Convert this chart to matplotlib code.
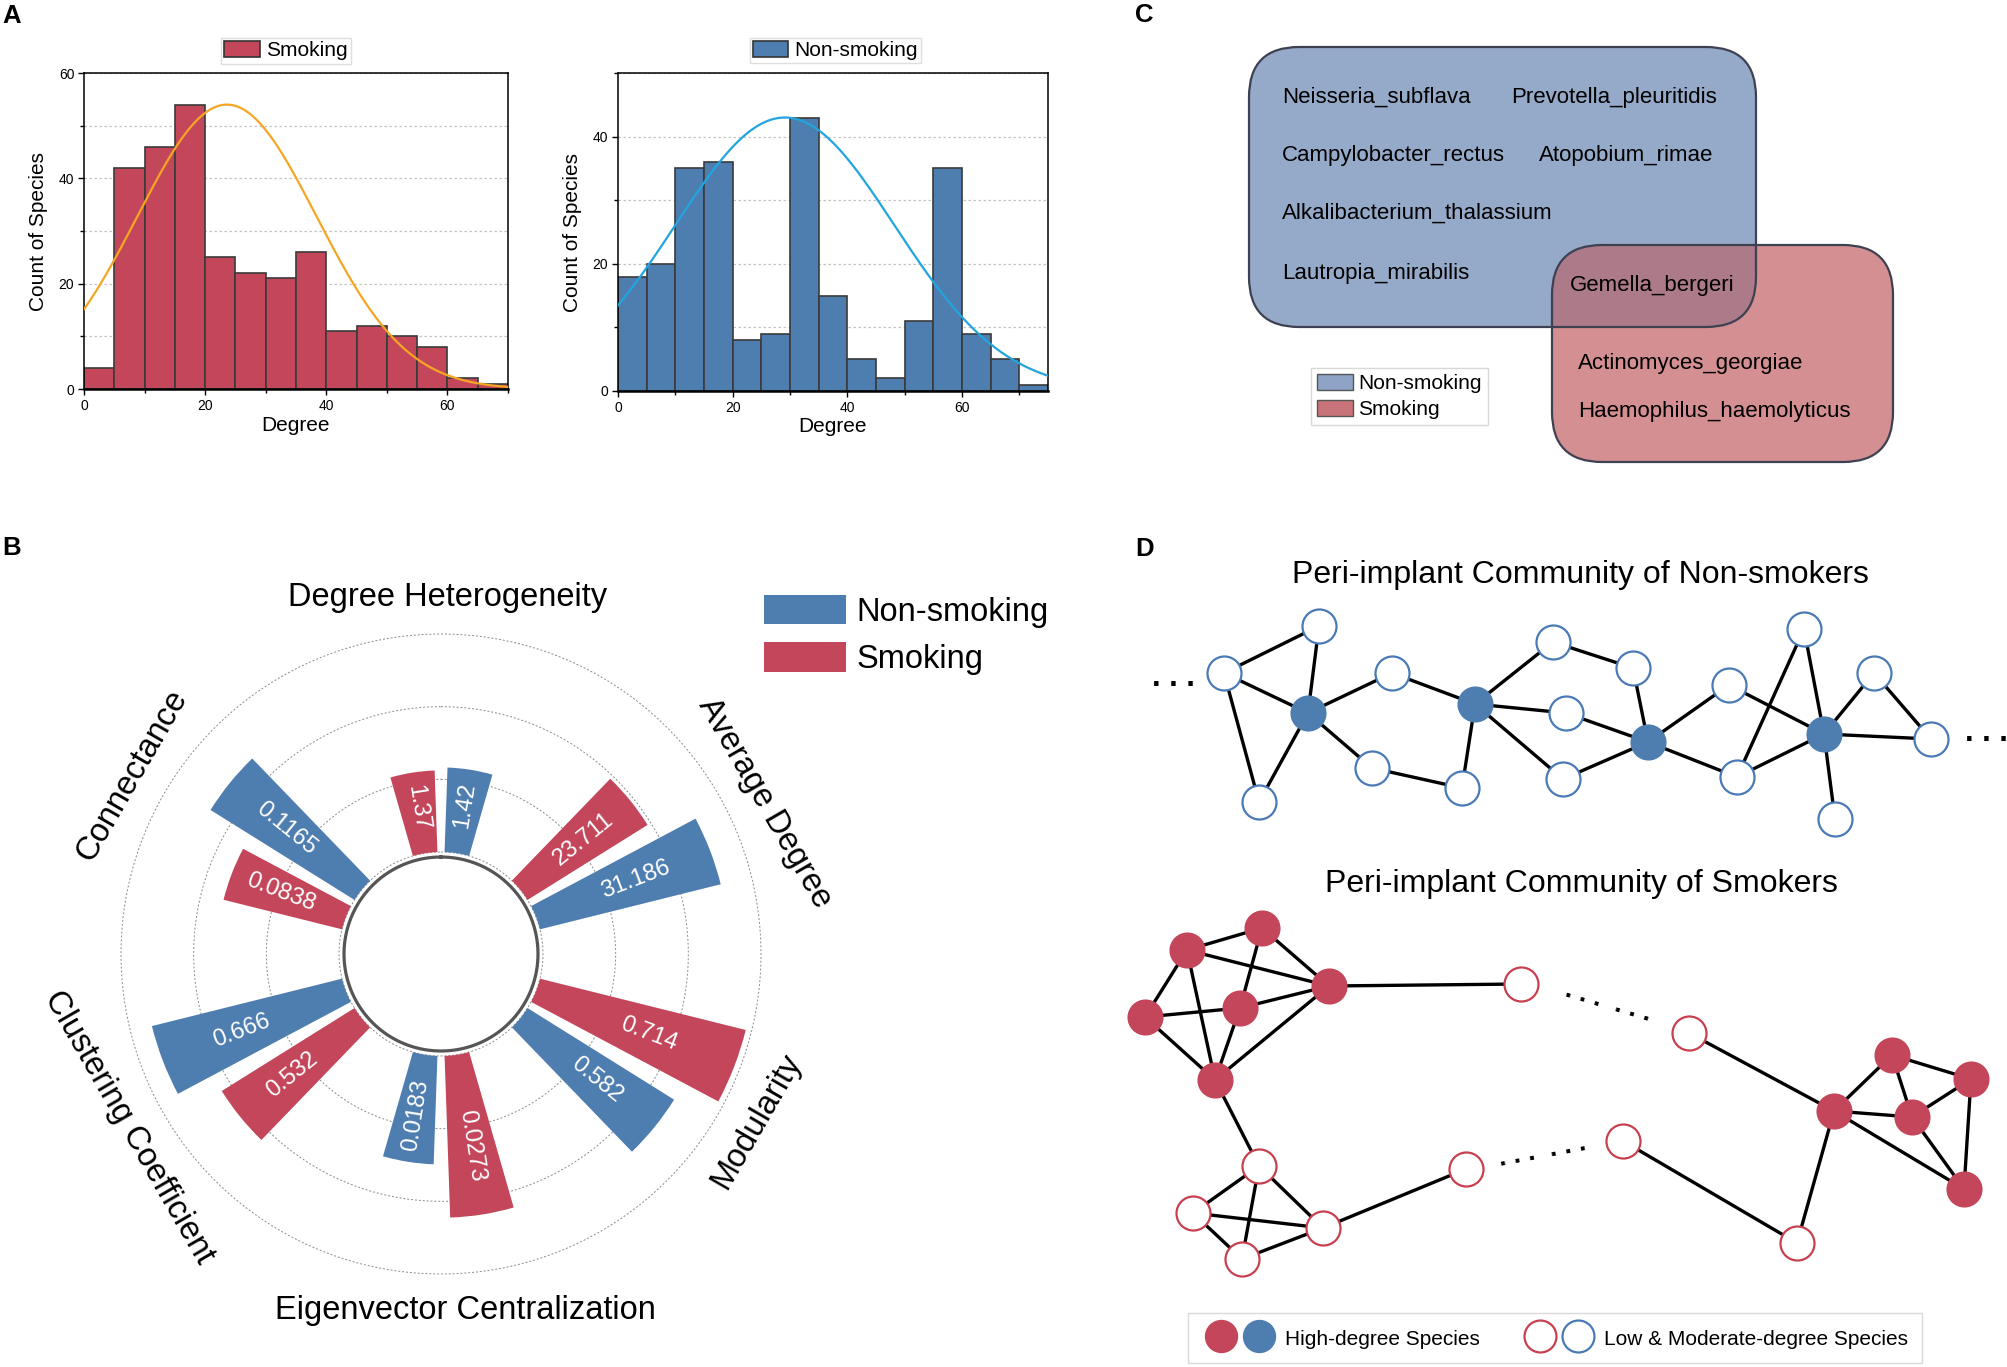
import numpy as np
import matplotlib.pyplot as plt
from matplotlib.patches import FancyBboxPatch, Patch
from matplotlib.lines import Line2D
from matplotlib.legend_handler import HandlerTuple

plt.rcParams['font.family'] = ['Liberation Sans', 'DejaVu Sans']

W, H = 2008, 1367
RED = '#c4465a'
BLUE = '#4e7db0'

# ---- A: degree distributions, bins of width 5 ----
bin_width = 5
smoking_counts = [4, 42, 46, 54, 25, 22, 21, 26, 11, 12, 10, 8, 2, 1]
nonsmoking_counts = [18, 20, 35, 36, 8, 9, 43, 15, 5, 2, 11, 35, 9, 5, 1]
# gaussian fits: amplitude, mean, sd
smoking_fit = [54.0, 23.6, 14.8]
nonsmoking_fit = [43.0, 29.1, 19.1]

# ---- B: network properties ----
metrics = ['Degree Heterogeneity', 'Average Degree', 'Modularity',
           'Eigenvector Centralization', 'Clustering Coefficient', 'Connectance']
nonsmoking_vals = [1.42, 31.186, 0.582, 0.0183, 0.666, 0.1165]
smoking_vals = [1.37, 23.711, 0.714, 0.0273, 0.532, 0.0838]
metric_max = [3.66, 36.5, 0.734, 0.0368, 0.741, 0.1496]   # value reaching outer ring
label_angle = [1, 65, 118, 176, 241, 300]

# ---- C: hub species ----
nonsmoking_only = ['Neisseria_subflava', 'Prevotella_pleuritidis', 'Campylobacter_rectus',
                   'Atopobium_rimae', 'Alkalibacterium_thalassium', 'Lautropia_mirabilis']
shared = ['Gemella_bergeri']
smoking_only = ['Actinomyces_georgiae', 'Haemophilus_haemolyticus']

# ---- D: schematic networks (pixel positions) ----
ns_x = [1319, 1224, 1308, 1259, 1392, 1372, 1462, 1475, 1553, 1633,
        1566, 1563, 1648, 1729, 1737, 1824, 1804, 1874, 1931, 1835]
ns_y = [626, 673, 713, 802, 673, 768, 788, 704, 642, 668,
        713, 779, 742, 685, 777, 734, 629, 673, 739, 819]
ns_hub = [0, 0, 1, 0, 0, 0, 0, 1, 0, 0, 0, 0, 1, 0, 0, 1, 0, 0, 0, 0]
ns_edges = [(1, 0), (0, 2), (1, 2), (1, 3), (2, 3), (2, 4), (2, 5), (5, 6), (6, 7), (4, 7),
            (7, 8), (7, 10), (7, 11), (8, 9), (9, 12), (10, 12), (11, 12), (12, 13), (12, 14),
            (13, 15), (14, 15), (14, 16), (16, 15), (15, 17), (17, 18), (15, 18), (15, 19)]

sm_x = [1262, 1187, 1329, 1240, 1145, 1215, 1521, 1689, 1259, 1193,
        1323, 1242, 1466, 1623, 1797, 1892, 1971, 1834, 1912, 1964]
sm_y = [928, 950, 986, 1008, 1017, 1080, 984, 1033, 1166, 1213,
        1228, 1259, 1169, 1141, 1243, 1055, 1079, 1111, 1117, 1189]
sm_hub = [1, 1, 1, 1, 1, 1, 0, 0, 0, 0, 0, 0, 0, 0, 0, 1, 1, 1, 1, 1]
sm_edges = [(1, 0), (0, 2), (0, 3), (1, 2), (1, 4), (1, 5), (4, 3), (3, 2), (3, 5), (4, 5),
            (5, 2), (2, 6), (5, 8), (8, 9), (8, 10), (8, 11), (9, 10), (9, 11), (11, 10),
            (10, 12), (13, 14), (7, 17), (14, 17), (17, 15), (17, 18), (17, 19), (15, 16),
            (15, 18), (18, 16), (16, 19), (18, 19)]

fig = plt.figure(figsize=(W / 100, H / 100), dpi=100)


def px_rect(left, top, right, bottom):
    return [left / W, 1 - bottom / H, (right - left) / W, (bottom - top) / H]


def hist_panel(rect, counts, fit, color, curve_color, label, xmax, ymax, leg_x):
    ax = fig.add_axes(rect)
    left = np.arange(len(counts)) * bin_width
    ax.bar(left, counts, width=bin_width, align='edge', color=color,
           edgecolor='#3a3a3a', linewidth=1.2, zorder=2)
    xs = np.linspace(0, xmax, 300)
    amp, mu, sd = fit
    ax.plot(xs, amp * np.exp(-(xs - mu) ** 2 / (2 * sd ** 2)), color=curve_color, lw=1.6, zorder=3)
    ax.set_xlim(0, xmax)
    ax.set_ylim(0, ymax)
    ax.xaxis.set_major_locator(plt.MultipleLocator(20))
    ax.xaxis.set_minor_locator(plt.MultipleLocator(10))
    ax.yaxis.set_major_locator(plt.MultipleLocator(20))
    ax.yaxis.set_minor_locator(plt.MultipleLocator(10))
    ax.yaxis.grid(True, which='both', ls=(0, (2, 2)), color='#c4c4c4', lw=0.9)
    ax.set_axisbelow(True)
    ax.tick_params(which='both', direction='out', labelsize=10, width=1, pad=3)
    ax.tick_params(which='major', length=4)
    ax.tick_params(which='minor', length=3)
    for s in ax.spines.values():
        s.set_linewidth(1.1)
    ax.spines['bottom'].set_linewidth(1.8)
    ax.set_xlabel('Degree', fontsize=15, labelpad=2)
    ax.set_ylabel('Count of Species', fontsize=15, labelpad=8)
    ax.legend(handles=[Patch(fc=color, ec='#333333', lw=1.2, label=label)],
              loc='lower center', bbox_to_anchor=(leg_x, 1.03), fontsize=15,
              fancybox=False, edgecolor='#d6d6d6', handlelength=1.7, handleheight=0.85,
              handletextpad=0.3, borderpad=0.15, borderaxespad=0)
    return ax


hist_panel(px_rect(84, 73, 508, 389), smoking_counts, smoking_fit, RED, '#f5a623',
           'Smoking', 70, 60, 0.476)
hist_panel(px_rect(618, 73, 1048, 391), nonsmoking_counts, nonsmoking_fit, BLUE, '#22a5de',
           'Non-smoking', 75, 50, 0.506)

# ---- B: polar bars ----
cx, cy, R = 441, 954, 380
axp = fig.add_axes(px_rect(cx - R, cy - R, cx + R, cy + R), projection='polar')
axp.set_theta_zero_location('N')
axp.set_theta_direction(-1)
axp.set_ylim(0, R)
axp.axis('off')
base, span = 102, 218
full = np.linspace(0, 2 * np.pi, 400)
for r in base + span * np.array([0, 1, 2, 3]) / 3:
    axp.plot(full, np.full_like(full, r), ls=(0, (2, 2)), color='#8a8a8a', lw=0.7, zorder=1)
axp.plot(full, np.full_like(full, 97), color='#555555', lw=2.3, zorder=4)


def upright(rot):
    rot = (rot + 180) % 360 - 180
    if rot > 90:
        rot -= 180
    elif rot < -90:
        rot += 180
    return rot


for i, name in enumerate(metrics):
    center = i * 60
    for vals, off, col in ((smoking_vals, -9, RED), (nonsmoking_vals, 9, BLUE)):
        v = vals[i]
        h = v / metric_max[i] * span
        th = center + off
        axp.bar(np.radians(th), h, width=np.radians(14), bottom=base, color=col, zorder=3)
        axp.text(np.radians(th), base + 0.57 * h, str(v), color='white', fontsize=17,
                 rotation=upright(90 - th), rotation_mode='anchor', ha='center', va='center',
                 zorder=5)
    axp.text(np.radians(label_angle[i]), 357, name, fontsize=23.5, rotation=upright(-center),
             rotation_mode='anchor', ha='center', va='center')

fig.legend(handles=[Patch(fc=BLUE, label='Non-smoking'), Patch(fc=RED, label='Smoking')],
           loc='upper left', bbox_to_anchor=(764 / W, 1 - 595 / H), frameon=False,
           fontsize=23.5, handlelength=2.5, handleheight=1.0, handletextpad=0.34,
           labelspacing=0.45, borderpad=0, borderaxespad=0)

# ---- C and D on a pixel-coordinate canvas ----
ax = fig.add_axes([0, 0, 1, 1])
ax.set_xlim(0, W)
ax.set_ylim(H, 0)
ax.axis('off')
ax.patch.set_visible(False)

rs = 'round,pad=0,rounding_size=50'
blue_box = FancyBboxPatch((1249, 47), 507, 280, boxstyle=rs, fc='#95a9c8', ec='none', zorder=1)
red_box = FancyBboxPatch((1552, 245), 341, 217, boxstyle=rs, fc='#d38f92', ec='none', zorder=1)
ax.add_patch(blue_box)
ax.add_patch(red_box)
overlap = FancyBboxPatch((1552, 245), 341, 217, boxstyle=rs, fc='#ac7a88', ec='none', zorder=1.5)
ax.add_patch(overlap)
overlap.set_clip_path(blue_box)
for b in ((1249, 47, 507, 280), (1552, 245, 341, 217)):
    ax.add_patch(FancyBboxPatch(b[:2], b[2], b[3], boxstyle=rs, fc='none',
                                ec='#3e4152', lw=1.6, zorder=2))

venn_pos = [(1282, 97), (1511, 97), (1282, 155), (1539, 155), (1282, 213), (1282, 274)]
for name, (x, y) in zip(nonsmoking_only, venn_pos):
    ax.text(x, y, name, fontsize=16, ha='left', va='center', zorder=3)
for name in shared:
    ax.text(1570, 286, name, fontsize=16, ha='left', va='center', zorder=3)
for name, y in zip(smoking_only, [364, 412]):
    ax.text(1578, y, name, fontsize=16, ha='left', va='center', zorder=3)

leg_c = ax.legend(handles=[Patch(fc='#8ea3c6', ec='#555555', lw=1, label='Non-smoking'),
                           Patch(fc='#c8737a', ec='#555555', lw=1, label='Smoking')],
                  loc='upper left', bbox_to_anchor=(1311, 368), bbox_transform=ax.transData,
                  fontsize=15, fancybox=False, edgecolor='#d0d0d0', handlelength=1.7,
                  handleheight=0.8, handletextpad=0.25, labelspacing=0.3, borderpad=0.3,
                  borderaxespad=0)
ax.add_artist(leg_c)

# D networks
ax.text(1580, 575, 'Peri-implant Community of Non-smokers', fontsize=23, ha='center', va='center')
ax.text(1581, 884, 'Peri-implant Community of Smokers', fontsize=23, ha='center', va='center')


def draw_network(xs, ys, hubs, edges, fill, edge):
    for a, b in edges:
        ax.plot([xs[a], xs[b]], [ys[a], ys[b]], color='black', lw=2.4, zorder=2,
                solid_capstyle='round')
    xs, ys, hubs = np.array(xs), np.array(ys), np.array(hubs, bool)
    ax.scatter(xs[hubs], ys[hubs], s=600, c=fill, edgecolors=fill, linewidths=1.5, zorder=3)
    ax.scatter(xs[~hubs], ys[~hubs], s=600, c='white', edgecolors=edge, linewidths=1.6, zorder=3)


draw_network(ns_x, ns_y, ns_hub, ns_edges, BLUE, '#4a7ab5')
draw_network(sm_x, sm_y, sm_hub, sm_edges, RED, '#c8404f')

dot_kw = dict(fontweight='bold', ha='center', va='baseline', rotation_mode='anchor')
ax.text(1173, 686, '. . .', fontsize=22, **dot_kw)
ax.text(1986, 741, '. . .', fontsize=22, **dot_kw)
ax.text(1606, 1009, '. . .  . . .', fontsize=19, rotation=-16.5, **dot_kw)
ax.text(1543, 1158, '. . .  . . .', fontsize=19, rotation=10.6, **dot_kw)

ms = 23
h_high = (Line2D([], [], ls='none', marker='o', ms=ms, mfc=RED, mec=RED),
          Line2D([], [], ls='none', marker='o', ms=ms, mfc=BLUE, mec=BLUE))
h_low = (Line2D([], [], ls='none', marker='o', ms=ms, mfc='white', mec='#c8404f', mew=1.6),
         Line2D([], [], ls='none', marker='o', ms=ms, mfc='white', mec='#4a7ab5', mew=1.6))
ax.legend(handles=[h_high, h_low], labels=['High-degree Species', 'Low & Moderate-degree Species'],
          handler_map={tuple: HandlerTuple(ndivide=None, pad=0)}, numpoints=1, ncol=2,
          loc='center', bbox_to_anchor=(1555, 1338), bbox_transform=ax.transData,
          fontsize=15, fancybox=False, edgecolor='#d0d0d0', handlelength=3.6,
          handleheight=1.2, handletextpad=0.35, columnspacing=2.0, borderpad=0.7)

# panel letters
for letter, x, y in (('A', 2, 16), ('B', 2, 548), ('C', 1135, 15), ('D', 1135, 549)):
    fig.text(x / W, 1 - y / H, letter, fontsize=18.5, fontweight='bold', ha='left', va='center')

fig.savefig('out.png', dpi=100)
